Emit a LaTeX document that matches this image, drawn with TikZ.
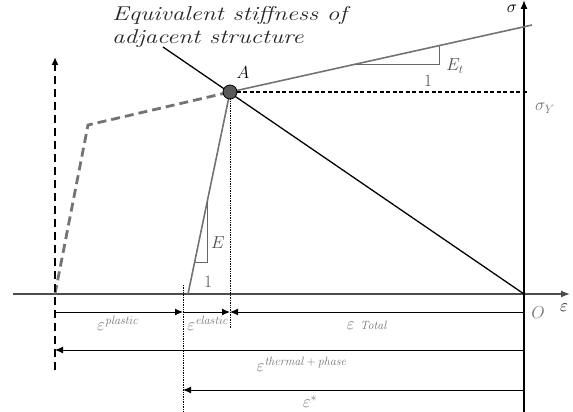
\documentclass[tikz,border=0pt]{standalone}
\usepackage{amsmath,amssymb}
\usepackage{graphicx}
\usepackage{xcolor}
\usepackage{tikz}
\usetikzlibrary{arrows.meta,calc}

\begin{document}
\begin{tikzpicture}[x=1pt, y=-1pt,
  axis/.style={line width=1.3pt, -{Latex[length=9pt,width=7pt]}},
  glin/.style={draw=black!55, line width=1.6pt},
  dim/.style={line width=1pt, -{Latex[length=8pt,width=7pt]}},
  guide/.style={line width=0.7pt, densely dotted},
  lab/.style={text=black!55, font=\LARGE},
  tri/.style={draw=black!60, line width=1pt}]
  \useasboundingbox (0,0) rectangle (573,412);

  % key points
  \coordinate (O) at (524,294);
  \coordinate (A) at (230,92);
  \coordinate (B) at (188,294);
  \coordinate (P) at (55,294);
  \coordinate (C) at (183,294);

  % axes
  \coordinate (xs) at (13,294);  \coordinate (xe) at (570,294);
  \coordinate (ys) at (524,412); \coordinate (ye) at (524,0);
  \draw[axis, draw=black!70] (xs) -- (xe);
  \draw[axis] (ys) -- (ye);
  \node (eps) at (564,308) {\LARGE$\varepsilon$};
  \node (sig) at (512,9) {\LARGE$\sigma$};
  \node[lab] (orig) at (538,313) {$O$};

  % equivalent stiffness of adjacent structure
  \coordinate (s1) at (163,47);
  \draw[line width=1.3pt] (s1) -- (O);
  \node[anchor=north west, inner sep=0pt, text=black!85]
    (title) at (112,4) {\scalebox{1.25}[1]{\fontsize{20}{23}\selectfont\itshape
      \begin{tabular}{@{}l@{}}Equivalent stiffness of\\adjacent structure\end{tabular}}};

  % tangent branch E_t
  \coordinate (t1) at (532,25);
  \draw[glin] (A) -- (t1);
  \coordinate (ta) at (355,64.3); \coordinate (tb) at (439,64.3); \coordinate (tc) at (439,45.6);
  \draw[tri] (ta) -- (tb) -- (tc);
  \node[lab, text=black!70] (Et) at (455,66) {$E_t$};
  \node[lab, text=black!70] (one1) at (428,81) {$1$};

  % yield level
  \coordinate (sy) at (527,92);
  \draw[line width=1.3pt, dash pattern=on 4pt off 2.5pt] (A) -- (sy);
  \node[lab] (sigY) at (545,108) {$\sigma_{Y}$};

  % elastic branch E
  \draw[glin] (B) -- (A);
  \coordinate (ea) at (194.7,262); \coordinate (eb) at (207.1,262); \coordinate (ec) at (207.1,202);
  \draw[tri] (ea) -- (eb) -- (ec);
  \node[lab, text=black!70] (E) at (218,243) {$E$};
  \node[lab, text=black!70] (one2) at (208,282) {$1$};

  % plastic path
  \coordinate (k) at (88,125);
  \draw[draw=black!55, line width=2.8pt, dash pattern=on 9pt off 5pt] (P) -- (k) -- (A);
  \coordinate (pb) at (55,370); \coordinate (pt) at (55,57);
  \draw[line width=2pt, dash pattern=on 8pt off 5pt, -{Latex[length=8pt,width=7pt]}] (pb) -- (pt);

  % point A
  \node[circle, draw, line width=0.8pt, fill=black!65, minimum size=14pt, inner sep=0pt] (ptA) at (A) {};
  \node[font=\LARGE] (labA) at (243,73) {$A$};

  % guides
  \coordinate (ga) at (230,328);
  \draw[guide] (ptA) -- (ga);
  \coordinate (gc1) at (183,285); \coordinate (gc2) at (183,412);
  \draw[guide] (gc1) -- (gc2);

  % strain components
  \coordinate (r1a) at (55,312); \coordinate (r1b) at (183,312);
  \coordinate (r1c) at (230,312); \coordinate (r1d) at (524,312);
  \draw[dim] (r1a) -- (r1b);
  \draw[dim] (r1b) -- (r1c);
  \draw[dim] (r1d) -- (r1c);
  \node[lab] (epl) at (118,323) {$\varepsilon^{\mathit{plastic}}$};
  \node[lab] (eel) at (208,323) {$\varepsilon^{\mathit{elastic}}$};
  \node[lab] (eto) at (367,325) {$\varepsilon$ \textit{\large Total}};
  \coordinate (r2a) at (524,350); \coordinate (r2b) at (55,350);
  \draw[dim] (r2a) -- (r2b);
  \node[lab] (eth) at (302,364) {$\varepsilon^{\mathit{thermal}\,+\,\mathit{phase}}$};
  \coordinate (r3a) at (524,390); \coordinate (r3b) at (183,390);
  \draw[dim] (r3a) -- (r3b);
  \node[lab] (est) at (310,402) {$\varepsilon^{*}$};
\end{tikzpicture}
\end{document}
